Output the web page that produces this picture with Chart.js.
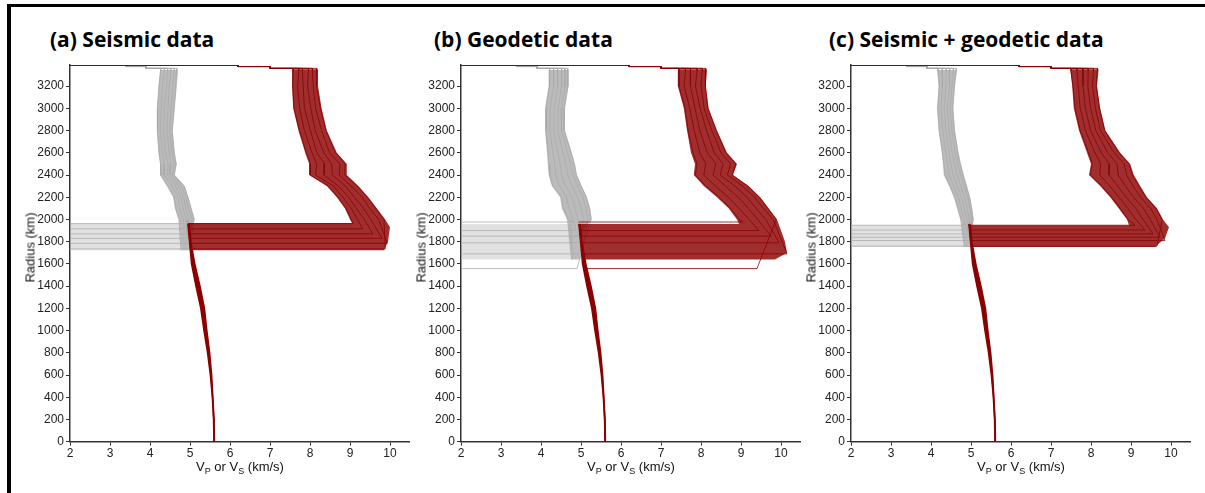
<!DOCTYPE html>
<html>
<head>
<meta charset="utf-8">
<script src="https://cdn.jsdelivr.net/npm/chart.js@4.4.1/dist/chart.umd.min.js"></script>
<style>
  body { margin: 0; background: #fff; }
  #page { position: relative; width: 1205px; height: 493px; overflow: hidden; background: #fff;
          font-family: "Liberation Sans", Arial, sans-serif; }
  #frame { position: absolute; left: 7px; top: 4px; width: 1220px; height: 520px;
           border-top: 3px solid #000; border-left: 4px solid #000; }
  canvas { position: absolute; top: 0; }
  .title { position: absolute; top: 25px; font-family: "Open Sans", sans-serif; font-weight: 700;
           font-size: 21px; color: #000; white-space: nowrap; }
  .xlab { position: absolute; top: 459px; width: 340px; text-align: center; font-size: 13px; color: #111; }
  .xlab sub { font-size: 9px; vertical-align: -3px; line-height: 0; }
  .ylab { position: absolute; top: 240px; width: 120px; text-align: center; font-size: 13px; color: #111;
          transform: rotate(-90deg); }
</style>
</head>
<body>
<div id="page">
  <div id="frame"></div>
  <div class="title" style="left:50px">(a) Seismic data</div>
  <div class="title" style="left:434px">(b) Geodetic data</div>
  <div class="title" style="left:829px">(c) Seismic + geodetic data</div>
  <canvas id="cA" width="390" height="493" style="left:20px"></canvas>
  <canvas id="cB" width="390" height="493" style="left:411px"></canvas>
  <canvas id="cC" width="390" height="493" style="left:801px"></canvas>
  <div class="xlab" style="left:70px">V<sub>P</sub> or V<sub>S</sub> (km/s)</div>
  <div class="xlab" style="left:461px">V<sub>P</sub> or V<sub>S</sub> (km/s)</div>
  <div class="xlab" style="left:851px">V<sub>P</sub> or V<sub>S</sub> (km/s)</div>
  <div class="ylab" style="left:-30px">Radius (km)</div>
  <div class="ylab" style="left:361px">Radius (km)</div>
  <div class="ylab" style="left:751px">Radius (km)</div>
</div>
<script>
const radiusTicks = [0, 200, 400, 600, 800, 1000, 1200, 1400, 1600, 1800, 2000, 2200, 2400, 2600, 2800, 3000, 3200];
const velocityTicks = [2, 3, 4, 5, 6, 7, 8, 9, 10];

const mantleRadii = [3340, 3200, 3000, 2800, 2600, 2500, 2400, 2300, 2200, 2100, 2000];
// crust steps at the surface
const crustRadii = [3389, 3389, 3376, 3376, 3360];
const crustVp = [0, 6.2, 6.2, 7.0, 7.0];
const crustVs = [0, 3.4, 3.4, 3.9, 3.9];
// liquid core Vp (spread of the models)
const coreRadii = [1960, 1800, 1600, 1400, 1200, 1000, 800, 600, 400, 200, 0];
const coreVpMin = [4.93, 4.97, 5.02, 5.13, 5.25, 5.33, 5.42, 5.49, 5.54, 5.57, 5.58];
const coreVpMax = [4.99, 5.04, 5.14, 5.27, 5.38, 5.44, 5.51, 5.56, 5.59, 5.62, 5.63];

// (a) seismic data
const vpBandA = [[7.55,3352],[7.55,3200],[7.58,3000],[7.71,2800],[7.88,2600],[7.98,2500],[7.98,2400],[8.42,2300],[8.67,2200],[8.87,2100],[9.00,2000],[9.05,1969],[4.95,1969],[4.99,1724],[9.85,1724],[9.95,1800],[10.0,1930],[9.88,2000],[9.67,2100],[9.46,2200],[9.21,2300],[8.92,2400],[8.92,2500],[8.67,2600],[8.42,2800],[8.29,3000],[8.20,3200],[8.20,3352]];
const vsBandA = [[4.25,3345],[4.21,3200],[4.17,3000],[4.17,2800],[4.21,2600],[4.25,2500],[4.25,2400],[4.42,2300],[4.58,2200],[4.62,2100],[4.71,2000],[4.76,1724],[4.97,1724],[4.99,1900],[5.12,2000],[5.04,2100],[4.96,2200],[4.87,2300],[4.62,2400],[4.67,2500],[4.62,2600],[4.57,2800],[4.62,3000],[4.67,3200],[4.70,3345]];
const vsCmbA = [[0,1969],[4.75,1969],[4.78,1724],[0,1724]];
const cmbA = [1962, 1915, 1870, 1830, 1785, 1735];
const coreTopA = [4.94, 4.96, 4.97, 4.98, 4.99, 5.00];
const vpLinesA = [
  [7.58,7.57,7.60,7.74,7.91,8.01,8.00,8.46,8.70,8.90,9.03,9.08],
  [7.72,7.69,7.74,7.86,8.05,8.17,8.14,8.59,8.82,9.03,9.19,9.32],
  [7.81,7.83,7.86,8.01,8.17,8.37,8.35,8.71,8.97,9.16,9.36,9.57],
  [7.96,7.94,8.02,8.13,8.35,8.54,8.56,8.89,9.11,9.34,9.52,9.80],
  [8.06,8.08,8.14,8.29,8.49,8.75,8.73,9.03,9.30,9.49,9.72,9.93],
  [8.17,8.16,8.26,8.40,8.64,8.88,8.87,9.18,9.43,9.64,9.85,9.88]
];
const vsLinesA = [
  [4.27,4.23,4.19,4.19,4.23,4.27,4.27,4.45,4.60,4.65,4.74,4.78],
  [4.36,4.31,4.28,4.26,4.31,4.36,4.35,4.55,4.70,4.74,4.83,4.86],
  [4.44,4.41,4.36,4.34,4.39,4.45,4.44,4.63,4.77,4.83,4.90,4.92],
  [4.52,4.48,4.45,4.42,4.48,4.52,4.50,4.71,4.84,4.89,4.97,4.95],
  [4.61,4.57,4.53,4.49,4.55,4.60,4.56,4.78,4.90,4.96,5.05,4.97],
  [4.67,4.64,4.60,4.55,4.60,4.65,4.60,4.85,4.95,5.02,5.10,4.99]
];

// (b) geodetic data
const vpBandB = [[7.42,3352],[7.42,3200],[7.57,3000],[7.65,2800],[7.75,2600],[7.85,2500],[7.82,2400],[8.07,2300],[8.40,2200],[8.69,2100],[8.90,2000],[8.95,1960],[4.94,1960],[5.04,1640],[9.85,1640],[10.15,1700],[10.1,1800],[10.0,1900],[9.90,2000],[9.69,2100],[9.48,2200],[9.19,2300],[8.80,2400],[8.90,2500],[8.65,2600],[8.40,2800],[8.19,3000],[8.12,3200],[8.15,3352]];
const vsBandB = [[4.19,3345],[4.19,3200],[4.10,3000],[4.10,2800],[4.15,2600],[4.17,2500],[4.19,2400],[4.27,2300],[4.48,2200],[4.52,2100],[4.65,2000],[4.75,1640],[4.98,1640],[5.05,1900],[5.27,2000],[5.23,2100],[5.15,2200],[5.02,2300],[4.90,2400],[4.85,2500],[4.77,2600],[4.60,2800],[4.60,3000],[4.69,3200],[4.69,3345]];
const vsCmbB = [[0,1960],[4.78,1960],[4.80,1640],[0,1640]];
const cmbB = [1977, 1900, 1850, 1790, 1690, 1558];
const coreTopB = [4.94, 4.96, 4.97, 4.99, 5.02, 5.12];
const vpLinesB = [
  [7.45,7.45,7.60,7.68,7.80,7.90,7.86,8.12,8.45,8.74,8.95,9.05],
  [7.61,7.58,7.72,7.83,7.97,8.12,8.07,8.36,8.68,8.95,9.20,9.45],
  [7.74,7.73,7.85,7.97,8.16,8.37,8.30,8.61,8.93,9.18,9.42,9.75],
  [7.90,7.86,7.98,8.14,8.33,8.55,8.48,8.85,9.15,9.38,9.62,9.95],
  [8.03,8.00,8.08,8.27,8.50,8.74,8.66,9.04,9.34,9.56,9.80,10.15],
  [8.12,8.10,8.17,8.38,8.62,8.87,8.78,9.17,9.46,9.67,9.88,9.40]
];
const vsLinesB = [
  [4.22,4.21,4.13,4.13,4.18,4.20,4.22,4.30,4.51,4.56,4.68,4.80],
  [4.32,4.31,4.23,4.22,4.30,4.34,4.37,4.46,4.64,4.70,4.80,4.88],
  [4.42,4.41,4.33,4.32,4.42,4.48,4.52,4.62,4.78,4.85,4.93,4.95],
  [4.52,4.51,4.43,4.42,4.55,4.62,4.67,4.78,4.92,5.00,5.06,4.98],
  [4.60,4.60,4.52,4.51,4.66,4.74,4.80,4.91,5.05,5.12,5.18,5.00],
  [4.67,4.67,4.58,4.58,4.75,4.83,4.88,5.00,5.13,5.21,5.25,4.90]
];

// (c) seismic + geodetic data
const vpBandC = [[7.48,3352],[7.53,3200],[7.57,3000],[7.70,2800],[7.90,2600],[8.00,2500],[7.95,2400],[8.23,2300],[8.48,2200],[8.69,2100],[8.90,2000],[8.95,1948],[4.94,1948],[4.99,1753],[9.60,1753],[9.85,1830],[9.95,1930],[9.80,2000],[9.65,2100],[9.40,2200],[9.23,2300],[9.07,2400],[8.98,2500],[8.73,2600],[8.36,2800],[8.23,3000],[8.15,3200],[8.19,3352]];
const vsBandC = [[4.15,3345],[4.19,3200],[4.15,3000],[4.19,2800],[4.27,2600],[4.30,2500],[4.32,2400],[4.45,2300],[4.57,2200],[4.65,2100],[4.73,2000],[4.82,1753],[4.98,1753],[5.00,1900],[5.07,2000],[5.03,2100],[4.98,2200],[4.90,2300],[4.82,2400],[4.75,2500],[4.69,2600],[4.60,2800],[4.56,3000],[4.60,3200],[4.65,3345]];
const vsCmbC = [[0,1948],[4.80,1948],[4.85,1753],[0,1753]];
const cmbC = [1948, 1905, 1870, 1840, 1810, 1760];
const coreTopC = [4.94, 4.95, 4.96, 4.97, 4.98, 4.99];
const vpLinesC = [
  [7.50,7.55,7.60,7.73,7.94,8.03,7.98,8.27,8.52,8.73,8.93,9.10],
  [7.65,7.68,7.73,7.86,8.10,8.24,8.22,8.47,8.70,8.92,9.12,9.35],
  [7.80,7.80,7.86,7.99,8.26,8.46,8.45,8.67,8.88,9.12,9.30,9.55],
  [7.93,7.92,7.99,8.12,8.42,8.65,8.68,8.86,9.06,9.31,9.48,9.72],
  [8.06,8.04,8.11,8.24,8.58,8.83,8.89,9.05,9.24,9.49,9.65,9.85],
  [8.16,8.13,8.21,8.34,8.70,8.95,9.03,9.20,9.37,9.62,9.78,9.65]
];
const vsLinesC = [
  [4.18,4.21,4.17,4.21,4.29,4.32,4.35,4.48,4.60,4.68,4.76,4.82],
  [4.28,4.29,4.25,4.29,4.37,4.41,4.45,4.57,4.68,4.75,4.83,4.88],
  [4.38,4.37,4.33,4.37,4.45,4.50,4.55,4.66,4.76,4.83,4.90,4.93],
  [4.47,4.45,4.41,4.45,4.53,4.59,4.65,4.75,4.84,4.90,4.96,4.96],
  [4.56,4.52,4.48,4.52,4.61,4.67,4.74,4.83,4.92,4.97,5.02,4.98],
  [4.63,4.58,4.54,4.58,4.67,4.73,4.80,4.88,4.96,5.01,5.05,4.99]
];

const RED = '139,0,0';
const GREY = '170,170,170';

Chart.defaults.font.family = "'Liberation Sans', Arial, sans-serif";

function toPoints(pairs) {
  return pairs.map(function (p) { return {x: p[0], y: p[1]}; });
}

// one velocity model: crust steps, mantle, then across the CMB into the core
function profile(crustV, mantleV, cmb, coreV) {
  var pts = crustRadii.map(function (r, i) { return {x: crustV[i], y: r}; });
  pts.push({x: mantleV[0], y: crustRadii[crustRadii.length - 1]});
  mantleRadii.forEach(function (r, i) { pts.push({x: mantleV[i], y: r}); });
  pts.push({x: mantleV[mantleV.length - 1], y: cmb});
  pts.push({x: coreV, y: cmb});
  return pts;
}

function shape(pts, color, order) {
  return {data: pts, fill: 'shape', backgroundColor: color, borderColor: 'rgba(0,0,0,0)',
          borderWidth: 0, pointRadius: 0, order: order};
}
function line(pts, color, width, order) {
  return {data: pts, fill: false, borderColor: color, borderWidth: width, pointRadius: 0, order: order};
}

function corePoints() {
  var pts = coreRadii.map(function (r, i) { return {x: coreVpMin[i], y: r}; });
  for (var i = coreRadii.length - 1; i >= 0; i--) pts.push({x: coreVpMax[i], y: coreRadii[i]});
  return pts;
}

function drawPanel(id, vpBand, vsBand, vsCmb, cmb, coreTop, vpLines, vsLines) {
  var ds = [];
  ds.push(shape(toPoints(vsCmb), 'rgba(' + GREY + ',0.35)', 20));
  ds.push(shape(toPoints(vsBand), 'rgba(' + GREY + ',0.8)', 19));
  vsLines.forEach(function (v, i) {
    ds.push(line(profile(crustVs, v, cmb[i], 0), 'rgba(' + GREY + ',0.75)', 1, 18));
  });
  ds.push(shape(toPoints(vpBand), 'rgba(' + RED + ',0.82)', 17));
  vpLines.forEach(function (v, i) {
    ds.push(line(profile(crustVp, v, cmb[i], coreTop[i]), 'rgba(' + RED + ',0.8)', 1, 16));
  });
  ds.push(shape(corePoints(), 'rgb(' + RED + ')', 15));
  ds.push(line(coreRadii.map(function (r, i) { return {x: (coreVpMin[i] + coreVpMax[i]) / 2, y: r}; }),
               'rgb(' + RED + ')', 1.5, 14));

  new Chart(document.getElementById(id), {
    type: 'line',
    data: {datasets: ds},
    options: {
      responsive: false,
      animation: false,
      devicePixelRatio: 1,
      events: [],
      layout: {padding: {top: 65, right: 0, bottom: 0, left: 0}},
      plugins: {legend: {display: false}, tooltip: {enabled: false}},
      scales: {
        x: {
          type: 'linear', min: 2, max: 10.5,
          afterFit: function (s) { s.height = 51.3; },
          afterBuildTicks: function (s) { s.ticks = velocityTicks.map(function (v) { return {value: v}; }); },
          ticks: {padding: 1, color: '#222', font: {size: 12},
                  callback: function (v) { return String(v); }},
          grid: {drawOnChartArea: false, drawTicks: true, tickLength: 4, color: '#333', lineWidth: 1},
          border: {display: true, color: '#333', width: 1.5}
        },
        y: {
          type: 'linear', min: 0, max: 3390,
          afterFit: function (s) { s.width = 50; },
          afterBuildTicks: function (s) { s.ticks = radiusTicks.map(function (v) { return {value: v}; }); },
          ticks: {padding: 2, color: '#222', font: {size: 12},
                  callback: function (v) { return String(v); }},
          grid: {drawOnChartArea: false, drawTicks: true, tickLength: 4, color: '#333', lineWidth: 1},
          border: {display: true, color: '#333', width: 1.5}
        }
      }
    }
  });
}

drawPanel('cA', vpBandA, vsBandA, vsCmbA, cmbA, coreTopA, vpLinesA, vsLinesA);
drawPanel('cB', vpBandB, vsBandB, vsCmbB, cmbB, coreTopB, vpLinesB, vsLinesB);
drawPanel('cC', vpBandC, vsBandC, vsCmbC, cmbC, coreTopC, vpLinesC, vsLinesC);
</script>
</body>
</html>
